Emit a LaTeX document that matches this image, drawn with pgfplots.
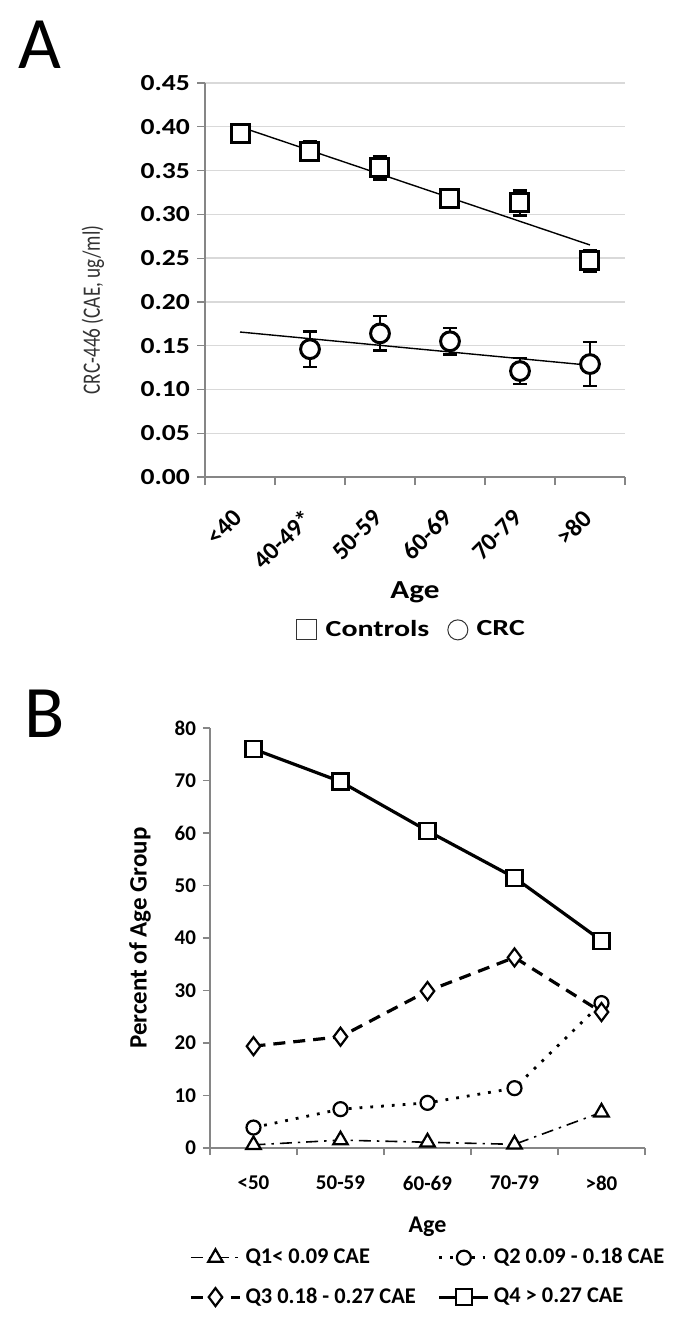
\documentclass[border=0pt]{standalone}
\usepackage{fontspec}
\setmainfont{Carlito}
\usepackage{pgfplots}
\pgfplotsset{compat=1.18}
\definecolor{axgray}{HTML}{868686}
\definecolor{gridgray}{HTML}{D9D9D9}
\begin{document}
\begin{tikzpicture}
\useasboundingbox (0,0) rectangle (339.5pt,-664.5pt);
\node[font=\fontsize{37}{40}\selectfont, anchor=base] at (20pt,-34pt) {A};
\node[font=\fontsize{37}{40}\selectfont, anchor=base] at (22.5pt,-368.5pt) {B};

% ---------------- Panel A ----------------
\begin{axis}[
  at={(102.5pt,-238.5pt)}, anchor=south west,
  width=210pt, height=197pt, scale only axis,
  xmin=0, xmax=6, ymin=0, ymax=0.45,
  axis x line*=bottom, axis y line*=left,
  axis line style={draw=axgray, line width=0.6pt},
  xtick={0.5,1.5,2.5,3.5,4.5,5.5},
  xticklabels={{<40},{40-49*},{50-59},{60-69},{70-79},{>80}},
  minor xtick={0,1,2,3,4,5,6},
  ytick={0,0.05,0.10,0.15,0.20,0.25,0.30,0.35,0.40,0.45},
  tick align=outside,
  major tick length=4pt, minor tick length=4pt,
  major x tick style={draw=none},
  minor x tick style={draw=axgray, line width=0.6pt},
  major y tick style={draw=axgray, line width=0.6pt},
  ymajorgrids,
  major grid style={draw=gridgray, line width=0.7pt},
  /pgf/number format/assume math mode=true,
  yticklabel={\scalebox{1.2}[1]{\pgfmathprintnumber[fixed,fixed zerofill,precision=2]{\tick}}},
  yticklabel style={font=\bfseries\fontsize{11.5}{14}\selectfont},
  scaled y ticks=false,
  xticklabel style={rotate=45, anchor=east, font=\bfseries\fontsize{12.5}{14}\selectfont, xshift=-7.6pt, yshift=-9.4pt},
  xlabel={\scalebox{1.2}[1]{Age}},
  every axis x label/.style={at={(axis description cs:0.5,-0.292)}, anchor=center, font=\bfseries\fontsize{13}{15}\selectfont},
  ylabel={\scalebox{1}[1.3]{CRC-446 (CAE, ug/ml)}},
  every axis y label/.style={at={(axis description cs:-0.267,0.424)}, rotate=90, anchor=center, font=\fontsize{9.6}{12}\selectfont, text=black!80},
  legend columns=2,
  legend style={at={(0.492,-0.388)}, anchor=center, draw=none, fill=none,
    font=\bfseries\fontsize{11.5}{14}\selectfont,
    /tikz/every even column/.append style={column sep=6pt}},
  legend image code/.code={\path[draw=none] (-0.1cm,0cm) -- (0.38cm,0cm); \draw[#1] plot coordinates {(0.12cm,0cm)};},
  clip=false,
]
\addlegendimage{only marks, mark=square, mark size=5pt, mark options={line width=0.5pt, draw=black!80}}
\addlegendentry{\scalebox{1.3}[1]{Controls}}
\addlegendimage{only marks, mark=o, mark size=5pt, mark options={line width=0.5pt, draw=black!80}}
\addlegendentry{\scalebox{1.3}[1]{CRC}}
% Controls
\addplot[forget plot, only marks, mark=square*, mark size=4.5pt,
  mark options={line width=1.5pt, draw=black, fill=white},
  error bars/.cd, y dir=both, y explicit,
  error bar style={line width=1.3pt, black},
  error mark options={rotate=90, mark size=3.5pt, line width=1.3pt, black}]
coordinates {
  (0.5,0.392) +- (0,0.005)
  (1.5,0.372) +- (0,0.011)
  (2.5,0.353) +- (0,0.013)
  (3.5,0.318) +- (0,0.006)
  (4.5,0.313) +- (0,0.014)
  (5.5,0.247) +- (0,0.0125)
};
% CRC
\addplot[forget plot, only marks, mark=*, mark size=4.7pt,
  mark options={line width=1.5pt, draw=black, fill=white},
  error bars/.cd, y dir=both, y explicit,
  error bar style={line width=1.3pt, black},
  error mark options={rotate=90, mark size=3.5pt, line width=1.3pt, black}]
coordinates {
  (1.5,0.146) +- (0,0.0205)
  (2.5,0.164) +- (0,0.0198)
  (3.5,0.155) +- (0,0.0152)
  (4.5,0.121) +- (0,0.0147)
  (5.5,0.129) +- (0,0.025)
};
% trend lines
\addplot[forget plot, black, line width=0.7pt, no marks] coordinates {(0.5,0.400) (5.5,0.265)};
\addplot[forget plot, black, line width=0.7pt, no marks] coordinates {(0.5,0.1656) (5.5,0.1276)};
\end{axis}

% ---------------- Panel B ----------------
\begin{axis}[
  at={(105pt,-574pt)}, anchor=south west,
  width=217.5pt, height=210pt, scale only axis,
  xmin=0, xmax=5, ymin=0, ymax=80,
  axis x line*=bottom, axis y line*=left,
  axis line style={draw=axgray, line width=0.6pt},
  xtick={0.5,1.5,2.5,3.5,4.5},
  xticklabels={{<50},{50-59},{60-69},{70-79},{>80}},
  minor xtick={0,1,2,3,4,5},
  ytick={0,10,20,30,40,50,60,70,80},
  tick align=outside,
  major tick length=3.5pt, minor tick length=3.5pt,
  major x tick style={draw=none},
  minor x tick style={draw=axgray, line width=0.6pt},
  major y tick style={draw=axgray, line width=0.6pt},
  /pgf/number format/assume math mode=true,
  yticklabel style={font=\bfseries\fontsize{10.5}{12}\selectfont},
  xticklabel style={font=\bfseries\fontsize{10.5}{12}\selectfont, yshift=-7pt},
  xlabel={Age},
  every axis x label/.style={at={(axis description cs:0.5,-0.188)}, anchor=center, font=\bfseries\fontsize{12}{14}\selectfont},
  ylabel={Percent of Age Group},
  every axis y label/.style={at={(axis description cs:-0.161,0.5)}, rotate=90, anchor=center, font=\bfseries\fontsize{12.5}{14}\selectfont},
  legend columns=2,
  legend cell align=left,
  legend style={at={(0.503,-0.308)}, anchor=center, draw=none, fill=none,
    font=\bfseries\fontsize{11.2}{13}\selectfont, row sep=6.5pt,
    /tikz/every even column/.append style={column sep=9pt}},
  legend image code/.code={\draw[mark repeat=2, mark phase=2, #1] plot coordinates {(0cm,0cm) (0.43cm,0cm) (0.86cm,0cm)};},
  clip=false,
]
\addplot[black, line width=0.8pt, dash pattern=on 6pt off 3pt on 1.2pt off 3pt,
  mark=triangle*, mark size=4.2pt, mark options={solid, line width=1.1pt, fill=white}]
coordinates {(0.5,0.6) (1.5,1.5) (2.5,1.1) (3.5,0.7) (4.5,6.8)};
\addlegendentry{Q1< 0.09 CAE}
\addplot[black, line width=1.4pt, dash pattern=on 1.4pt off 4pt,
  mark=*, mark size=3.5pt, mark options={solid, line width=1.1pt, fill=white}]
coordinates {(0.5,3.9) (1.5,7.4) (2.5,8.6) (3.5,11.4) (4.5,27.6)};
\addlegendentry{Q2 0.09 - 0.18 CAE}
\addplot[black, line width=1.6pt, dash pattern=on 6pt off 4pt,
  mark=diamond*, mark size=4.5pt, mark options={solid, line width=1.1pt, fill=white}]
coordinates {(0.5,19.4) (1.5,21.2) (2.5,29.9) (3.5,36.3) (4.5,25.9)};
\addlegendentry{Q3 0.18 - 0.27 CAE}
\addplot[black, line width=1.6pt,
  mark=square*, mark size=4pt, mark options={solid, line width=1.1pt, fill=white}]
coordinates {(0.5,76.0) (1.5,69.8) (2.5,60.4) (3.5,51.5) (4.5,39.5)};
\addlegendentry{Q4 > 0.27 CAE}
\end{axis}
\end{tikzpicture}
\end{document}
